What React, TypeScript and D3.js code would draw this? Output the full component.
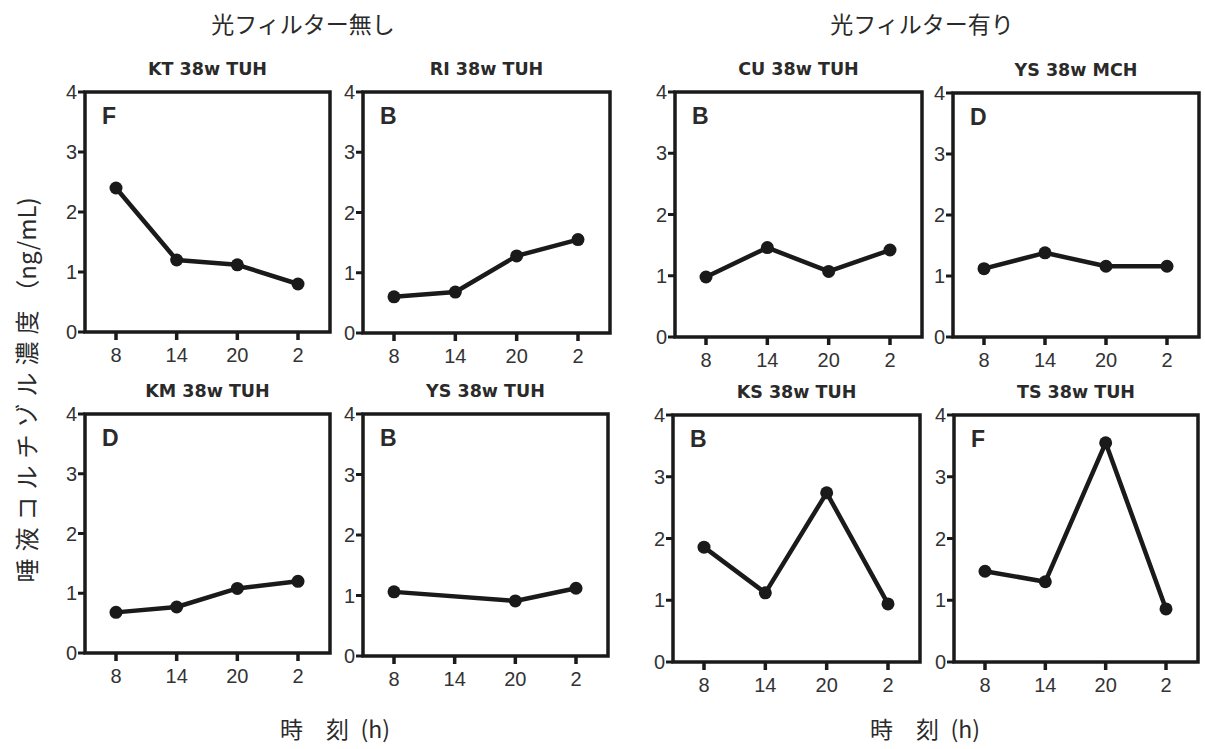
import React from "react";
import * as d3 from "d3";

const times = ["8", "14", "20", "2"];
const yTicks = [0, 1, 2, 3, 4];

const panelTitles = ["KT 38w TUH", "RI 38w TUH", "CU 38w TUH", "YS 38w MCH", "KM 38w TUH", "YS 38w TUH", "KS 38w TUH", "TS 38w TUH"];
const panelGrades = ["F", "B", "B", "D", "D", "B", "B", "F"];

const ktValues = [2.4, 1.2, 1.12, 0.8];
const riValues = [0.6, 0.68, 1.28, 1.55];
const cuValues = [0.98, 1.46, 1.07, 1.42];
const ysMchValues = [1.12, 1.38, 1.16, 1.16];
const kmValues = [0.68, 0.77, 1.08, 1.2];
const ysTuhValues: (number | null)[] = [1.06, null, 0.91, 1.12];
const ksValues = [1.86, 1.12, 2.74, 0.94];
const tsValues = [1.47, 1.3, 3.55, 0.86];

const panelValues = [ktValues, riValues, cuValues, ysMchValues, kmValues, ysTuhValues, ksValues, tsValues];

// layout: [left, right, top, bottom]
const panelBoxes = [
  [85, 330, 92, 332],
  [363, 610, 92, 333],
  [675, 922, 92, 337],
  [953, 1199, 93, 337],
  [85, 330, 414, 653],
  [363, 608, 414, 656],
  [673, 920, 415, 662],
  [954, 1198, 415, 662],
];

const headers = ["光フィルター無し", "光フィルター有り"];
const xAxisTitle = "時\u2003刻\u2002(h)";
const yAxisTitleMain = "唾液コルチゾル濃度";
const yAxisTitleUnit = "（ng/mL)";

const SANS = "'Liberation Sans', Arial, sans-serif";
const TITLE = "'DejaVu Sans', 'Liberation Sans', sans-serif";
const CJK = "'Noto Sans CJK JP', sans-serif";
const INK = "#1a1a1a";
const TXT = "#2a2a2a";

function Panel({ idx }: { idx: number }) {
  const [l, r, t, b] = panelBoxes[idx];
  const x = d3.scalePoint<string>().domain(times).range([l + 31, r - 32]);
  const y = d3.scaleLinear().domain([0, 4]).range([b, t]);
  const vals = panelValues[idx];
  const pts = times
    .map((tm, i) => ({ tm, v: vals[i] }))
    .filter((d) => d.v !== null && d.v !== undefined) as { tm: string; v: number }[];
  const line = d3
    .line<{ tm: string; v: number }>()
    .x((d) => x(d.tm) as number)
    .y((d) => y(d.v));
  return (
    <g>
      <text x={(l + r) / 2} y={t - 17} textAnchor="middle" fontFamily={TITLE} fontWeight="bold" fontSize={17.5} fill={TXT}>
        {panelTitles[idx]}
      </text>
      <rect x={l} y={t} width={r - l} height={b - t} fill="none" stroke={INK} strokeWidth={3.5} />
      {yTicks.map((v) => (
        <g key={v}>
          <line x1={l - 7} x2={l} y1={y(v)} y2={y(v)} stroke={INK} strokeWidth={3} />
          <text x={l - 8} y={y(v) + 7} textAnchor="end" fontFamily={SANS} fontSize={20} fill="#333">
            {v}
          </text>
        </g>
      ))}
      {times.map((tm) => (
        <g key={tm}>
          <line x1={x(tm)} x2={x(tm)} y1={b} y2={b + 8} stroke={INK} strokeWidth={3.5} />
          <text x={x(tm)} y={b + 30} textAnchor="middle" fontFamily={SANS} fontSize={20} fill="#333">
            {tm}
          </text>
        </g>
      ))}
      <text x={l + 17} y={t + 32} fontFamily={SANS} fontWeight="bold" fontSize={23} fill={TXT}>
        {panelGrades[idx]}
      </text>
      <path d={line(pts) || ""} fill="none" stroke={INK} strokeWidth={4.5} strokeLinejoin="round" />
      {pts.map((d) => (
        <circle key={d.tm} cx={x(d.tm)} cy={y(d.v)} r={6.5} fill={INK} />
      ))}
    </g>
  );
}

export default function App() {
  return (
    <svg width={1205} height={749} style={{ position: "absolute", left: 0, top: 0, background: "#fff" }}>
      <rect x={0} y={0} width={1205} height={749} fill="#fff" />
      <text x={303} y={33} textAnchor="middle" fontFamily={CJK} fontSize={23} fill={TXT}>
        {headers[0]}
      </text>
      <text x={922} y={33} textAnchor="middle" fontFamily={CJK} fontSize={23} fill={TXT}>
        {headers[1]}
      </text>
      <text transform="translate(36,390) rotate(-90)" textAnchor="middle" fontFamily={CJK} fontSize={24} fill={TXT}>
        <tspan letterSpacing={7}>{yAxisTitleMain}</tspan>
        <tspan>{yAxisTitleUnit}</tspan>
      </text>
      <text x={335} y={738} textAnchor="middle" fontFamily={CJK} fontSize={23} fill={TXT}>
        {xAxisTitle}
      </text>
      <text x={925} y={738} textAnchor="middle" fontFamily={CJK} fontSize={23} fill={TXT}>
        {xAxisTitle}
      </text>
      {panelBoxes.map((_, i) => (
        <Panel key={i} idx={i} />
      ))}
    </svg>
  );
}
